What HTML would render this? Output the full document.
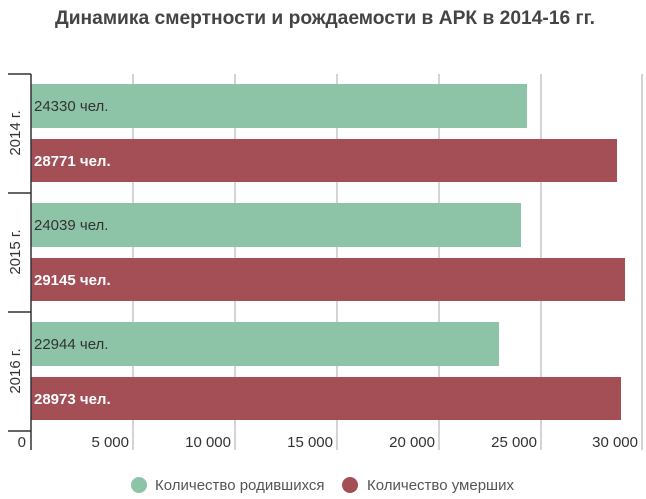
<!DOCTYPE html><html><head><meta charset="utf-8"><style>
body{margin:0;background:#fff;width:646px;height:494px;overflow:hidden;font-family:"Liberation Sans",sans-serif}
</style></head><body>
<svg width="646" height="494" xmlns="http://www.w3.org/2000/svg" font-family="Liberation Sans, sans-serif">
<text x="325" y="24" text-anchor="middle" font-size="19" font-weight="bold" fill="#444" textLength="540" lengthAdjust="spacingAndGlyphs">Динамика смертности и рождаемости в АРК в 2014-16 гг.</text>
<g stroke="#aaa" stroke-width="1">
<line x1="133" y1="74" x2="133" y2="450"/><line x1="235" y1="74" x2="235" y2="450"/><line x1="337" y1="74" x2="337" y2="450"/><line x1="439" y1="74" x2="439" y2="450"/><line x1="541" y1="74" x2="541" y2="450"/><line x1="642" y1="74" x2="642" y2="450"/>
</g>
<g fill="#8dc3a7"><rect x="31" y="84" width="496" height="44"/><rect x="31" y="203" width="490" height="44"/><rect x="31" y="322" width="468" height="44"/></g>
<g fill="#a44f55"><rect x="31" y="139" width="586" height="43"/><rect x="31" y="258" width="594" height="43"/><rect x="31" y="377" width="590" height="43"/></g>
<g stroke="#333" stroke-width="1.5"><line x1="31" y1="74" x2="31" y2="450"/><line x1="8" y1="74" x2="31" y2="74"/><line x1="8" y1="193" x2="31" y2="193"/><line x1="8" y1="312" x2="31" y2="312"/><line x1="8" y1="431" x2="31" y2="431"/></g>
<g font-size="15" fill="#333"><text x="34" y="111">24330 чел.</text><text x="34" y="230">24039 чел.</text><text x="34" y="349">22944 чел.</text></g>
<g font-size="15" fill="#fff" font-weight="bold"><text x="34" y="166">28771 чел.</text><text x="34" y="285">29145 чел.</text><text x="34" y="404">28973 чел.</text></g>
<g font-size="15" fill="#333" text-anchor="middle"><text transform="translate(20,133) rotate(-90)">2014 г.</text><text transform="translate(20,252) rotate(-90)">2015 г.</text><text transform="translate(20,371) rotate(-90)">2016 г.</text></g>
<g font-size="15" fill="#333" text-anchor="end"><text x="26" y="447">0</text><text x="129" y="447">5 000</text><text x="231" y="447">10 000</text><text x="333" y="447">15 000</text><text x="435" y="447">20 000</text><text x="537" y="447">25 000</text><text x="638" y="447">30 000</text></g>
<circle cx="139" cy="485" r="8" fill="#8dc3a7"/><text x="155" y="490" font-size="15" fill="#555">Количество родившихся</text>
<circle cx="350" cy="485" r="8" fill="#a44f55"/><text x="367" y="490" font-size="15" fill="#555">Количество умерших</text>
</svg></body></html>
